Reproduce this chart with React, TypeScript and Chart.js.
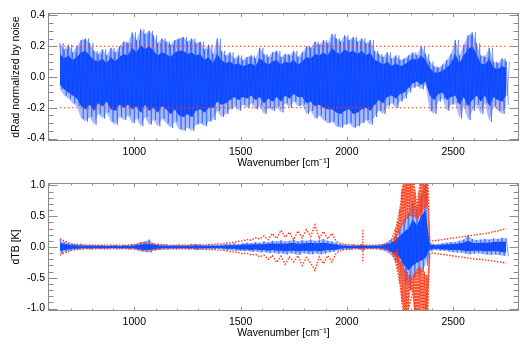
import React, { useEffect, useRef } from "react";
import { Chart, registerables } from "chart.js";

Chart.register(...registerables);

// ---------- shared wavenumber grid (cm^-1) ----------
const wavenumbers = [
  650, 670, 690, 710, 730, 750, 770, 790, 810, 830,
  850, 870, 890, 910, 930, 950, 970, 990, 1010, 1030,
  1050, 1070, 1090, 1110, 1130, 1150, 1170, 1190, 1210, 1230,
  1250, 1270, 1290, 1310, 1330, 1350, 1370, 1390, 1410, 1430,
  1450, 1470, 1490, 1510, 1530, 1550, 1570, 1590, 1610, 1630,
  1650, 1670, 1690, 1710, 1730, 1750, 1770, 1790, 1810, 1830,
  1850, 1870, 1890, 1910, 1930, 1950, 1970, 1990, 2010, 2030,
  2050, 2070, 2090, 2110, 2130, 2150, 2170, 2190, 2210, 2230,
  2250, 2270, 2290, 2310, 2330, 2350, 2370, 2390, 2410, 2430,
  2450, 2470, 2490, 2510, 2530, 2550, 2570, 2590, 2610, 2630,
  2650, 2670, 2690, 2710, 2730, 2750,
];

// ---------- top panel: dRad / noise envelopes ----------
const radOuterHigh = [
  0.22, 0.18, 0.21, 0.16, 0.20, 0.24, 0.25, 0.22, 0.17, 0.15,
  0.18, 0.14, 0.19, 0.16, 0.20, 0.23, 0.22, 0.29, 0.24, 0.31,
  0.28, 0.30, 0.27, 0.22, 0.25, 0.23, 0.21, 0.24, 0.25, 0.26,
  0.23, 0.25, 0.22, 0.23, 0.18, 0.21, 0.15, 0.25, 0.17, 0.14,
  0.16, 0.12, 0.14, 0.11, 0.13, 0.14, 0.12, 0.19, 0.15, 0.13,
  0.16, 0.17, 0.13, 0.15, 0.14, 0.17, 0.13, 0.16, 0.20, 0.19,
  0.23, 0.21, 0.24, 0.22, 0.28, 0.25, 0.23, 0.27, 0.24, 0.26,
  0.23, 0.25, 0.22, 0.24, 0.17, 0.15, 0.13, 0.16, 0.12, 0.14,
  0.11, 0.12, 0.14, 0.16, 0.14, 0.20, 0.15, 0.10, 0.07, 0.06,
  0.08, 0.11, 0.15, 0.24, 0.14, 0.21, 0.27, 0.29, 0.22, 0.14,
  0.13, 0.19, 0.10, 0.09, 0.12, 0.10,
];
const radOuterLow = [
  -0.08, -0.12, -0.14, -0.17, -0.19, -0.27, -0.29, -0.26, -0.31, -0.24,
  -0.27, -0.23, -0.29, -0.31, -0.26, -0.28, -0.25, -0.30, -0.27, -0.32,
  -0.26, -0.31, -0.28, -0.32, -0.27, -0.30, -0.33, -0.29, -0.34, -0.35,
  -0.33, -0.35, -0.31, -0.30, -0.32, -0.29, -0.28, -0.22, -0.26, -0.24,
  -0.21, -0.19, -0.22, -0.18, -0.20, -0.17, -0.21, -0.19, -0.24, -0.20,
  -0.22, -0.19, -0.23, -0.17, -0.20, -0.16, -0.19, -0.18, -0.24, -0.22,
  -0.27, -0.25, -0.28, -0.30, -0.29, -0.32, -0.33, -0.31, -0.30, -0.33,
  -0.32, -0.30, -0.28, -0.31, -0.26, -0.22, -0.24, -0.19, -0.17, -0.20,
  -0.16, -0.14, -0.10, -0.07, -0.06, -0.08, -0.05, -0.22, -0.24, -0.16,
  -0.14, -0.22, -0.18, -0.17, -0.27, -0.19, -0.28, -0.22, -0.18, -0.24,
  -0.17, -0.29, -0.19, -0.22, -0.24, -0.18,
];
const radInnerHigh = [
  0.15, 0.12, 0.14, 0.11, 0.13, 0.16, 0.17, 0.14, 0.11, 0.10,
  0.12, 0.09, 0.13, 0.10, 0.13, 0.15, 0.14, 0.19, 0.16, 0.21,
  0.18, 0.20, 0.17, 0.14, 0.16, 0.15, 0.13, 0.16, 0.17, 0.17,
  0.15, 0.16, 0.14, 0.15, 0.11, 0.13, 0.09, 0.15, 0.11, 0.09,
  0.10, 0.08, 0.09, 0.07, 0.08, 0.09, 0.07, 0.12, 0.10, 0.08,
  0.10, 0.11, 0.08, 0.10, 0.09, 0.11, 0.08, 0.10, 0.13, 0.12,
  0.15, 0.14, 0.16, 0.14, 0.19, 0.16, 0.15, 0.18, 0.16, 0.17,
  0.15, 0.17, 0.14, 0.16, 0.11, 0.10, 0.08, 0.10, 0.07, 0.09,
  0.07, 0.08, 0.10, 0.12, 0.11, 0.14, 0.11, 0.06, 0.03, 0.03,
  0.04, 0.06, 0.09, 0.15, 0.09, 0.14, 0.18, 0.20, 0.15, 0.09,
  0.08, 0.12, 0.06, 0.05, 0.07, 0.06,
];
const radInnerLow = [
  -0.05, -0.08, -0.10, -0.12, -0.14, -0.19, -0.21, -0.18, -0.22, -0.17,
  -0.19, -0.16, -0.21, -0.22, -0.18, -0.20, -0.18, -0.21, -0.19, -0.23,
  -0.18, -0.22, -0.20, -0.23, -0.19, -0.21, -0.24, -0.21, -0.25, -0.26,
  -0.24, -0.26, -0.22, -0.21, -0.23, -0.20, -0.20, -0.16, -0.18, -0.17,
  -0.15, -0.13, -0.15, -0.13, -0.14, -0.12, -0.15, -0.13, -0.17, -0.14,
  -0.16, -0.13, -0.16, -0.12, -0.14, -0.11, -0.13, -0.13, -0.17, -0.16,
  -0.19, -0.18, -0.20, -0.21, -0.21, -0.23, -0.24, -0.22, -0.21, -0.24,
  -0.23, -0.21, -0.20, -0.22, -0.18, -0.15, -0.17, -0.13, -0.12, -0.14,
  -0.11, -0.10, -0.07, -0.04, -0.03, -0.05, -0.03, -0.12, -0.15, -0.11,
  -0.10, -0.15, -0.13, -0.12, -0.18, -0.13, -0.19, -0.15, -0.12, -0.16,
  -0.12, -0.19, -0.13, -0.15, -0.16, -0.12,
];
const noiseLevels = [0.2, -0.2];
const dataRange = [650, 2760];

// ---------- bottom panel: dTB ----------
const tbOuterHigh = [
  0.12, 0.08, 0.06, 0.05, 0.04, 0.04, 0.03, 0.04, 0.03, 0.03,
  0.03, 0.02, 0.03, 0.03, 0.02, 0.03, 0.03, 0.04, 0.05, 0.08,
  0.09, 0.12, 0.06, 0.05, 0.04, 0.04, 0.03, 0.03, 0.04, 0.03,
  0.03, 0.04, 0.05, 0.04, 0.03, 0.04, 0.03, 0.04, 0.04, 0.05,
  0.05, 0.06, 0.05, 0.06, 0.07, 0.06, 0.08, 0.07, 0.09, 0.08,
  0.10, 0.09, 0.11, 0.09, 0.10, 0.12, 0.09, 0.11, 0.10, 0.12,
  0.10, 0.11, 0.13, 0.10, 0.09, 0.07, 0.05, 0.04, 0.03, 0.04,
  0.03, 0.05, 0.03, 0.03, 0.03, 0.04, 0.05, 0.08, 0.12, 0.20,
  0.30, 0.45, 0.55, 0.72, 0.62, 0.85, 1.05, 0.08, 0.05, 0.05,
  0.06, 0.07, 0.08, 0.08, 0.10, 0.12, 0.19, 0.13, 0.11, 0.12,
  0.13, 0.12, 0.14, 0.13, 0.15, 0.14,
];
const tbOuterLow = [
  -0.11, -0.08, -0.06, -0.05, -0.04, -0.04, -0.03, -0.04, -0.03, -0.03,
  -0.03, -0.03, -0.02, -0.03, -0.03, -0.03, -0.04, -0.03, -0.05, -0.07,
  -0.08, -0.09, -0.06, -0.05, -0.04, -0.04, -0.03, -0.04, -0.03, -0.03,
  -0.04, -0.03, -0.05, -0.04, -0.04, -0.03, -0.04, -0.03, -0.04, -0.05,
  -0.05, -0.06, -0.06, -0.07, -0.06, -0.08, -0.07, -0.09, -0.08, -0.10,
  -0.09, -0.11, -0.10, -0.12, -0.10, -0.11, -0.13, -0.10, -0.11, -0.12,
  -0.10, -0.12, -0.11, -0.09, -0.08, -0.06, -0.05, -0.04, -0.04, -0.03,
  -0.03, -0.06, -0.03, -0.03, -0.03, -0.04, -0.06, -0.09, -0.14, -0.22,
  -0.30, -0.55, -0.68, -0.50, -0.45, -0.40, -0.30, -0.07, -0.05, -0.06,
  -0.06, -0.07, -0.08, -0.09, -0.09, -0.10, -0.12, -0.11, -0.10, -0.11,
  -0.12, -0.13, -0.12, -0.13, -0.14, -0.15,
];
const tbInnerHigh = [
  0.07, 0.05, 0.04, 0.03, 0.03, 0.02, 0.02, 0.02, 0.02, 0.02,
  0.02, 0.015, 0.02, 0.02, 0.015, 0.02, 0.02, 0.02, 0.03, 0.04,
  0.05, 0.05, 0.04, 0.03, 0.02, 0.02, 0.02, 0.02, 0.02, 0.02,
  0.02, 0.02, 0.03, 0.02, 0.02, 0.02, 0.02, 0.02, 0.02, 0.03,
  0.03, 0.03, 0.03, 0.04, 0.04, 0.04, 0.05, 0.04, 0.05, 0.05,
  0.06, 0.05, 0.06, 0.05, 0.06, 0.07, 0.05, 0.06, 0.06, 0.07,
  0.06, 0.06, 0.07, 0.06, 0.05, 0.04, 0.03, 0.02, 0.02, 0.02,
  0.02, 0.03, 0.02, 0.02, 0.02, 0.02, 0.03, 0.05, 0.07, 0.12,
  0.18, 0.25, 0.30, 0.45, 0.35, 0.50, 0.60, 0.04, 0.03, 0.03,
  0.04, 0.04, 0.05, 0.05, 0.06, 0.07, 0.10, 0.07, 0.06, 0.07,
  0.07, 0.07, 0.08, 0.08, 0.09, 0.08,
];
const tbInnerLow = [
  -0.06, -0.05, -0.04, -0.03, -0.03, -0.02, -0.02, -0.02, -0.02, -0.02,
  -0.02, -0.02, -0.015, -0.02, -0.02, -0.02, -0.02, -0.02, -0.03, -0.04,
  -0.05, -0.05, -0.04, -0.03, -0.02, -0.02, -0.02, -0.02, -0.02, -0.02,
  -0.02, -0.02, -0.03, -0.02, -0.02, -0.02, -0.02, -0.02, -0.02, -0.03,
  -0.03, -0.03, -0.04, -0.04, -0.04, -0.05, -0.04, -0.05, -0.05, -0.06,
  -0.05, -0.06, -0.06, -0.07, -0.06, -0.06, -0.07, -0.06, -0.06, -0.07,
  -0.06, -0.07, -0.06, -0.05, -0.05, -0.04, -0.03, -0.02, -0.02, -0.02,
  -0.02, -0.03, -0.02, -0.02, -0.02, -0.02, -0.03, -0.05, -0.08, -0.13,
  -0.18, -0.30, -0.38, -0.30, -0.25, -0.22, -0.18, -0.04, -0.03, -0.03,
  -0.04, -0.04, -0.05, -0.05, -0.05, -0.06, -0.07, -0.06, -0.06, -0.06,
  -0.07, -0.07, -0.07, -0.07, -0.08, -0.09,
];
const redHigh = [
  0.13, 0.10, 0.07, 0.05, 0.04, 0.04, 0.03, 0.03, 0.03, 0.03,
  0.03, 0.03, 0.03, 0.03, 0.03, 0.03, 0.03, 0.04, 0.04, 0.06,
  0.07, 0.06, 0.05, 0.04, 0.04, 0.03, 0.03, 0.03, 0.03, 0.03,
  0.03, 0.04, 0.03, 0.04, 0.03, 0.04, 0.04, 0.05, 0.05, 0.06,
  0.07, 0.08, 0.09, 0.10, 0.12, 0.11, 0.15, 0.13, 0.18, 0.12,
  0.22, 0.14, 0.27, 0.16, 0.24, 0.12, 0.26, 0.15, 0.28, 0.17,
  0.36, 0.14, 0.25, 0.13, 0.22, 0.09, 0.06, 0.04, 0.04, 0.03,
  0.03, 0.03, 0.03, 0.03, 0.03, 0.03, 0.04, 0.06, 0.12, 0.30,
  0.62, 1.20, 1.20, 1.20, 0.65, 1.20, 1.20, 0.10, 0.10, 0.11,
  0.12, 0.13, 0.14, 0.15, 0.16, 0.17, 0.18, 0.19, 0.20, 0.21,
  0.22, 0.23, 0.25, 0.26, 0.28, 0.30,
];
const redLow = [
  -0.13, -0.10, -0.07, -0.05, -0.04, -0.03, -0.03, -0.03, -0.03, -0.03,
  -0.03, -0.03, -0.03, -0.03, -0.03, -0.03, -0.03, -0.03, -0.04, -0.05,
  -0.06, -0.05, -0.04, -0.04, -0.03, -0.03, -0.03, -0.03, -0.03, -0.03,
  -0.03, -0.03, -0.04, -0.03, -0.04, -0.04, -0.04, -0.05, -0.05, -0.06,
  -0.07, -0.08, -0.09, -0.11, -0.10, -0.13, -0.12, -0.16, -0.13, -0.20,
  -0.14, -0.25, -0.15, -0.28, -0.16, -0.24, -0.14, -0.30, -0.17, -0.26,
  -0.38, -0.16, -0.27, -0.14, -0.24, -0.10, -0.06, -0.04, -0.04, -0.03,
  -0.03, -0.03, -0.03, -0.03, -0.03, -0.03, -0.03, -0.04, -0.08, -0.25,
  -0.60, -1.20, -1.00, -0.75, -1.20, -1.20, -1.20, -0.10, -0.10, -0.11,
  -0.12, -0.13, -0.14, -0.15, -0.16, -0.17, -0.18, -0.19, -0.20, -0.20,
  -0.21, -0.22, -0.23, -0.24, -0.25, -0.26,
];
// isolated red spike near 2075 cm^-1
const redSpikeWn = 2075;
const redSpikeRange = [0.28, -0.26];
// thick red bands in the 2220-2390 cm^-1 region
const bandWn = [2220, 2230, 2240, 2250, 2260, 2270, 2280, 2290, 2300, 2310, 2320, 2330, 2340, 2350, 2360, 2370, 2380, 2390];
const bandHighOuter = [0.15, 0.25, 0.42, 0.62, 0.95, 1.2, 1.2, 1.2, 1.2, 1.2, 0.9, 0.65, 0.9, 1.2, 1.2, 1.2, 1.2, 0.12];
const bandHighInner = [0.1, 0.15, 0.22, 0.28, 0.35, 0.4, 0.45, 0.5, 0.5, 0.5, 0.48, 0.45, 0.5, 0.55, 0.6, 0.65, 0.7, 0.1];
const bandLowOuter = [-0.12, -0.2, -0.38, -0.6, -0.9, -1.2, -1.2, -1.0, -0.7, -0.75, -1.2, -1.2, -1.2, -1.2, -1.2, -1.2, -1.2, -0.12];
const bandLowInner = [-0.08, -0.1, -0.15, -0.22, -0.28, -0.35, -0.4, -0.45, -0.5, -0.45, -0.4, -0.35, -0.33, -0.35, -0.4, -0.45, -0.5, -0.1];

// ---------- axes ----------
const xMajorTicks = [1000, 1500, 2000, 2500];
const topYTicks = [-0.4, -0.2, 0.0, 0.2, 0.4];
const bottomYTicks = [-1.0, -0.5, 0.0, 0.5, 1.0];

const FONT = { family: "'Liberation Sans', Arial, Helvetica, sans-serif", size: 10.5 };
const DARK = "#0a48ff";
const LIGHT = "#a9bcff";
const MID = "rgba(35,88,255,0.7)";
const RED = "#ff3a14";
const RED_FILL = "rgba(255,70,30,0.5)";
const CLEAR = "rgba(0,0,0,0)";

const pts = (xs: number[], ys: number[]) => xs.map((x, i) => ({ x, y: ys[i] }));
const zig = (xs: number[], a: number[], b: number[], dx: number) =>
  xs.flatMap((x, i) => [{ x, y: a[i] }, { x: x + dx, y: b[i] }]);

const idlFrame = {
  id: "idlFrame",
  afterDatasetsDraw(chart: any) {
    const o = chart.options.plugins.idlFrame;
    const { ctx, chartArea: a } = chart;
    const xs = chart.scales.x;
    const ys = chart.scales.y;
    const L = Math.round(a.left) + 0.5;
    const R = Math.round(a.right) - 0.5;
    const T = Math.round(a.top) + 0.5;
    const B = Math.round(a.bottom) - 0.5;
    ctx.save();
    ctx.strokeStyle = "#8c8c8c";
    ctx.lineWidth = 1;
    ctx.strokeRect(L, T, R - L, B - T);
    ctx.beginPath();
    const k0 = Math.ceil(xs.min / o.xMinor);
    const k1 = Math.floor(xs.max / o.xMinor);
    for (let k = k0; k <= k1; k++) {
      const v = k * o.xMinor;
      const r = v / o.xMajor;
      const major = Math.abs(r - Math.round(r)) < 1e-6;
      const len = major ? 3.5 : 2;
      const px = Math.round(xs.getPixelForValue(v)) + 0.5;
      ctx.moveTo(px, B); ctx.lineTo(px, B - len);
      ctx.moveTo(px, T); ctx.lineTo(px, T + len);
    }
    const j0 = Math.ceil(ys.min / o.yMinor - 1e-9);
    const j1 = Math.floor(ys.max / o.yMinor + 1e-9);
    for (let j = j0; j <= j1; j++) {
      const v = j * o.yMinor;
      const r = v / o.yMajor;
      const major = Math.abs(r - Math.round(r)) < 1e-6;
      const len = major ? 9 : 5;
      const py = Math.round(ys.getPixelForValue(v)) + 0.5;
      ctx.moveTo(L, py); ctx.lineTo(L + len, py);
      ctx.moveTo(R, py); ctx.lineTo(R - len, py);
    }
    ctx.stroke();
    ctx.restore();
  },
};

function makeOptions(yMin: number, yMax: number, yTicks: number[], yMinor: number, yMajor: number, yTitle: string) {
  return {
    animation: false,
    responsive: false,
    devicePixelRatio: 1,
    layout: { padding: { left: 0, right: 9, top: 13, bottom: 0 } },
    elements: { point: { radius: 0 }, line: { tension: 0 } },
    plugins: {
      legend: { display: false },
      tooltip: { enabled: false },
      idlFrame: { xMinor: 100, xMajor: 500, yMinor, yMajor },
    },
    scales: {
      x: {
        type: "linear",
        min: 594,
        max: 2810,
        grid: { display: false, drawTicks: false },
        border: { display: false },
        ticks: {
          autoSkip: false,
          maxRotation: 0,
          padding: 5,
          font: FONT,
          color: "#000",
          callback: (v: any) => String(v),
        },
        afterBuildTicks: (s: any) => {
          s.ticks = xMajorTicks.map((value) => ({ value }));
        },
        afterFit: (s: any) => {
          s.height = 31;
        },
        title: {
          display: true,
          text: "Wavenumber [cm\u207B\u00B9]",
          font: FONT,
          color: "#000",
          padding: { top: 0, bottom: 3 },
        },
      },
      y: {
        type: "linear",
        min: yMin,
        max: yMax,
        grid: { display: false, drawTicks: false },
        border: { display: false },
        ticks: {
          autoSkip: false,
          padding: 3,
          font: FONT,
          color: "#000",
          callback: (v: any) => Number(v).toFixed(1),
        },
        afterBuildTicks: (s: any) => {
          s.ticks = yTicks.map((value) => ({ value }));
        },
        afterFit: (s: any) => {
          s.width = 48;
        },
        title: {
          display: true,
          text: yTitle,
          font: FONT,
          color: "#000",
          padding: { top: 10, bottom: 0 },
        },
      },
    },
  };
}

const hidden = { borderColor: CLEAR, borderWidth: 0, pointRadius: 0 };

function topConfig(): any {
  return {
    type: "line",
    data: {
      datasets: [
        { ...hidden, data: pts(wavenumbers, radOuterHigh), fill: "+1", backgroundColor: LIGHT, order: 6 },
        { ...hidden, data: pts(wavenumbers, radOuterLow), fill: false, order: 6 },
        { ...hidden, data: pts(wavenumbers, radInnerHigh), fill: "+1", backgroundColor: DARK, order: 5 },
        { ...hidden, data: pts(wavenumbers, radInnerLow), fill: false, order: 5 },
        { data: zig(wavenumbers, radOuterHigh, radOuterLow, 10), borderColor: MID, borderWidth: 0.9, fill: false, pointRadius: 0, order: 3 },
        { data: zig(wavenumbers.map((w) => w + 5), radInnerLow, radOuterHigh, 10), borderColor: "rgba(20,75,255,0.55)", borderWidth: 0.8, fill: false, pointRadius: 0, order: 4 },
        ...noiseLevels.map((lev) => ({
          data: dataRange.map((x) => ({ x, y: lev })),
          borderColor: RED,
          borderWidth: 1.2,
          borderDash: [1.5, 2.5],
          fill: false,
          pointRadius: 0,
          order: 1,
        })),
      ],
    },
    options: makeOptions(-0.416, 0.416, topYTicks, 0.05, 0.2, "dRad normalized by noise"),
  };
}

function bottomConfig(): any {
  const redLine = (data: any[], order: number) => ({
    data,
    borderColor: RED,
    borderWidth: 1.4,
    borderDash: [1.5, 1.5],
    fill: false,
    pointRadius: 0,
    order,
  });
  return {
    type: "line",
    data: {
      datasets: [
        redLine(pts(wavenumbers, redHigh), 1),
        redLine(pts(wavenumbers, redLow), 1),
        redLine(zig(bandWn, bandHighOuter, bandHighInner, 5), 1),
        redLine(zig(bandWn, bandLowOuter, bandLowInner, 5), 1),
        redLine(redSpikeRange.map((y) => ({ x: redSpikeWn, y })), 1),
        { ...hidden, data: pts(bandWn, bandHighOuter), fill: "+1", backgroundColor: RED_FILL, order: 2 },
        { ...hidden, data: pts(bandWn, bandHighInner), fill: false, order: 2 },
        { ...hidden, data: pts(bandWn, bandLowOuter), fill: "+1", backgroundColor: RED_FILL, order: 2 },
        { ...hidden, data: pts(bandWn, bandLowInner), fill: false, order: 2 },
        { ...hidden, data: pts(wavenumbers, tbOuterHigh), fill: "+1", backgroundColor: LIGHT, order: 6 },
        { ...hidden, data: pts(wavenumbers, tbOuterLow), fill: false, order: 6 },
        { ...hidden, data: pts(wavenumbers, tbInnerHigh), fill: "+1", backgroundColor: DARK, order: 5 },
        { ...hidden, data: pts(wavenumbers, tbInnerLow), fill: false, order: 5 },
        { data: zig(wavenumbers, tbOuterHigh, tbOuterLow, 10), borderColor: MID, borderWidth: 0.9, fill: false, pointRadius: 0, order: 3 },
      ],
    },
    options: makeOptions(-1.04, 1.04, bottomYTicks, 0.1, 0.5, "dTB [K]"),
  };
}

function Panel({ top, build }: { top: number; build: () => any }) {
  const ref = useRef<HTMLCanvasElement>(null);
  useEffect(() => {
    const cfg = build();
    cfg.plugins = [idlFrame];
    const chart = new Chart(ref.current as HTMLCanvasElement, cfg);
    return () => chart.destroy();
  }, []);
  return (
    <canvas
      ref={ref}
      width={528}
      height={172}
      style={{ position: "absolute", left: 0, top, width: 528, height: 172 }}
    />
  );
}

export default function App() {
  return (
    <div style={{ position: "absolute", left: 0, top: 0, width: 528, height: 344, background: "#fff" }}>
      <Panel top={0} build={topConfig} />
      <Panel top={170} build={bottomConfig} />
    </div>
  );
}
